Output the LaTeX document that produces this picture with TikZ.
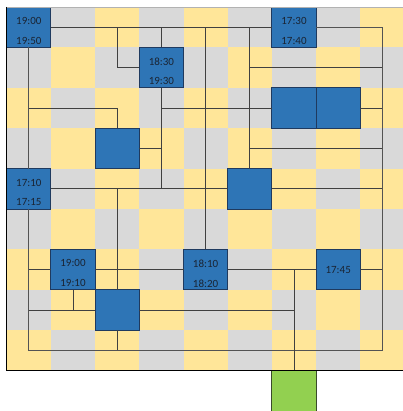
\documentclass[tikz,border=0pt]{standalone}
\usepackage{fontspec}
\setmainfont{Carlito}
\definecolor{cellY}{HTML}{FFE699}
\definecolor{cellG}{HTML}{D9D9D9}
\definecolor{boxB}{HTML}{2E75B6}
\definecolor{boxBd}{HTML}{1F3A5F}
\definecolor{grn}{HTML}{92D050}
\definecolor{grnBd}{HTML}{3A4A2A}
\definecolor{wire}{HTML}{404040}
\definecolor{txt}{HTML}{1A2433}
\begin{document}
\begin{tikzpicture}[x=1pt,y=-1pt,
  box/.style={draw=boxBd, fill=boxB, line width=0.9pt, minimum width=44.2pt, minimum height=40.4pt, inner sep=0pt, outer sep=0pt, font=\fontsize{11}{12}\selectfont, text=txt},
  lbl/.style={inner sep=0pt, font=\fontsize{11}{12}\selectfont, text=txt},
  wire/.style={draw=wire, line width=0.9pt},
  loopw/.style={draw=wire!90, line width=1pt},
  shadw/.style={draw=gray!55, line width=1pt}]
\useasboundingbox (0,0) rectangle (402,411);
% checker cells
\foreach \r in {0,...,8}{\foreach \c in {0,...,8}{
  \pgfmathtruncatemacro\p{mod(\r+\c,2)}
  \ifnum\p=0 \def\cellcol{cellY}\else\def\cellcol{cellG}\fi
  \fill[\cellcol] ({6.7+44.2*\c},{7+40.4*\r}) rectangle ({6.7+44.2*(\c+1)},{7+40.4*(\r+1)});
}}
% boxes
\node[box] (A) at (28.8,27.2) {};
\node[box] (B) at (294.0,27.2) {};
\node[box] (C) at (161.4,67.6) {};
\node[box] (D) at (294.0,108.0) {};
\node[box] (E) at (338.2,108.0) {};
\node[box] (F) at (117.2,148.4) {};
\node[box] (G) at (28.8,188.8) {};
\node[box] (H) at (249.8,188.8) {};
\node[box] (I) at (73.0,269.6) {};
\node[box] (J) at (205.6,269.6) {};
\node[box] (K) at (338.2,269.6) {17:45};
\node[box] (L) at (117.2,310.0) {};
\node[box, fill=grn, draw=grnBd, minimum height=42pt] (M) at (294.0,391.6) {};
% texts
\node[lbl] (A1) at (28.8,20.9) {19:00};
\node[lbl] (A2) at (28.8,40.9) {19:50};
\node[lbl] (B1) at (294.0,20.9) {17:30};
\node[lbl] (B2) at (294.0,40.9) {17:40};
\node[lbl] (C1) at (161.4,61.3) {18:30};
\node[lbl] (C2) at (161.4,81.3) {19:30};
\node[lbl] (G1) at (28.8,182.5) {17:10};
\node[lbl] (G2) at (28.8,202.5) {17:15};
\node[lbl] (I1) at (73.0,263.3) {19:00};
\node[lbl] (I2) at (73.0,283.3) {19:10};
\node[lbl] (J1) at (205.6,263.3) {18:10};
\node[lbl] (J2) at (205.6,283.3) {18:20};
% junction coordinates
\coordinate (t2) at (117.2,27.2);
\coordinate (t3) at (161.4,27.2);
\coordinate (t4) at (205.6,27.2);
\coordinate (t5) at (249.8,27.2);
\coordinate (tr) at (382.4,27.2);
\coordinate (br) at (382.4,350.4);
\coordinate (bl) at (28.8,350.4);
\coordinate (h1) at (249.8,67.6);
\coordinate (r1) at (382.4,67.6);
\coordinate (l2) at (28.8,108.0);
\coordinate (m2) at (161.4,108.0);
\coordinate (r2) at (382.4,108.0);
\coordinate (m3) at (161.4,148.4);
\coordinate (h3) at (249.8,148.4);
\coordinate (r3) at (382.4,148.4);
\coordinate (m4) at (161.4,188.8);
\coordinate (k4) at (117.2,188.8);
\coordinate (r4) at (382.4,188.8);
\coordinate (l6) at (28.8,269.6);
\coordinate (s6) at (294.0,269.6);
\coordinate (r6) at (382.4,269.6);
\coordinate (i7) at (73.0,310.0);
\coordinate (l7) at (28.8,310.0);
\coordinate (s7) at (294.0,310.0);
\coordinate (b2) at (117.2,350.4);
% outer loop with soft shadow
\begin{scope}[shift={(1,1)}]
\draw[shadw] (B.east) -- (tr) -- (br) -- (bl) -- (G.south);
\draw[shadw] (A.south) -- (G.north);
\end{scope}
\draw[loopw] (B.east) -- (tr) -- (br) -- (bl) -- (G.south);
\draw[loopw] (A.south) -- (G.north);
% connectors
\draw[wire] (A.east) -- (B.west);
\draw[wire] (t2) |- (C.west);
\draw[wire] (t3) -- (C.north);
\draw[wire] (t4) -- (J.north);
\draw[wire] (t5) -- (H.north);
\draw[wire] (h1) -- (r1);
\draw[wire] (l2) -| (F.north);
\draw[wire] (C.south) -- (m4);
\draw[wire] (m2) -- (D.west);
\draw[wire] (E.east) -- (r2);
\draw[wire] (F.east) -- (m3);
\draw[wire] (h3) -- (r3);
\draw[wire] (G.east) -- (H.west);
\draw[wire] (H.east) -- (r4);
\draw[wire] (k4) -- (L.north);
\draw[wire] (l6) -- (I.west);
\draw[wire] (I.east) -- (J.west);
\draw[wire] (J.east) -- (K.west);
\draw[wire] (K.east) -- (r6);
\draw[wire] (s6) -- (M.north);
\draw[wire] (I.south) -- (i7);
\draw[wire] (l7) -- (L.west);
\draw[wire] (L.east) -- (s7);
\draw[wire] (L.south) -- (b2);
% frame
\draw[gray!60, line width=0.6pt] (6.7,7) -- (404,7);
\draw[black, line width=1.2pt] (6.7,7) -- (6.7,370.6) -- (404,370.6);
\end{tikzpicture}
\end{document}
